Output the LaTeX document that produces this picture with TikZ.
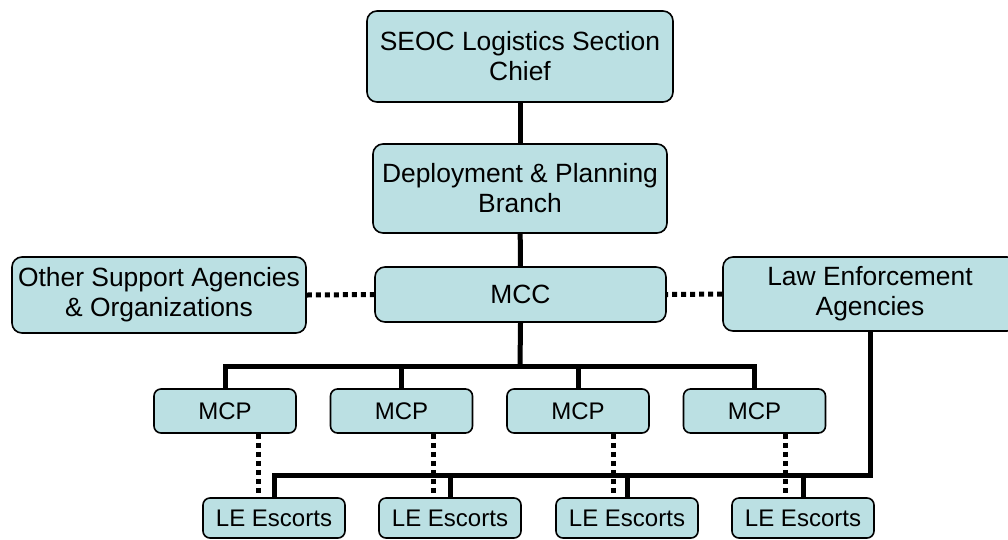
\documentclass[tikz,border=0pt]{standalone}
\usepackage{fontspec}
\setmainfont{Liberation Sans}
\usetikzlibrary{calc}
\definecolor{boxfill}{RGB}{187,224,227}
\tikzset{
  box/.style={draw=black, line width=1.6pt, fill=boxfill, rounded corners=10pt,
    align=center, inner sep=0pt, font=\fontsize{26.4}{30}\selectfont},
  smallbox/.style={box, rounded corners=7pt, minimum width=142pt, font=\fontsize{24}{28}\selectfont},
  solidline/.style={line width=5pt},
  dotline/.style={line width=5pt, dash pattern=on 5pt off 4pt}
}
\begin{document}
\begin{tikzpicture}[x=1pt,y=-1pt]
\clip (0,0) rectangle (1008,539);
\node[box, minimum width=306pt, minimum height=91pt] (seoc) at (520,56.5) {SEOC Logistics Section\\Chief};
\node[box, minimum width=294pt, minimum height=89pt] (dep) at (520,188.5) {Deployment \& Planning\\Branch};
\node[box, minimum width=291pt, minimum height=55pt] (mcc) at (520.5,294.5) {MCC};
\node[box, minimum width=294pt, minimum height=76pt] (other) at (159,295) {Other Support Agencies\\\& Organizations};
\node[box, minimum width=294pt, minimum height=74pt] (law) at (870,294) {Law Enforcement\\Agencies};
\foreach \i/\x in {1/225,2/401.5,3/578,4/754.5}
  \node[smallbox, minimum height=44pt] (mcp\i) at (\x,411) {MCP};
\foreach \i/\x in {1/274,2/450,3/627,4/803}
  \node[smallbox, minimum height=40pt] (le\i) at (\x,518) {LE Escorts};
% solid hierarchy
\draw[solidline] (seoc) -- (dep);
\draw[solidline] (dep) -- (mcc);
\coordinate (bus) at (520,366);
\draw[solidline] (mcc.south) -- (bus);
\draw[solidline] (mcp1.north) -- (mcp1.north |- bus) -- (mcp4.north |- bus) -- (mcp4.north);
\draw[solidline] (mcp2.north) -- (mcp2.north |- bus);
\draw[solidline] (mcp3.north) -- (mcp3.north |- bus);
% LE bus
\coordinate (lebus) at (870,475);
\draw[solidline] (law.south) -- (lebus) -- (le1.north |- lebus) -- (le1.north);
\draw[solidline] (le2.north) -- (le2.north |- lebus);
\draw[solidline] (le3.north) -- (le3.north |- lebus);
\draw[solidline] (le4.north) -- (le4.north |- lebus);
% dotted links
\draw[dotline] (other.east) -- (mcc.west);
\draw[dotline] (law.west) -- (mcc.east);
\foreach \i/\d in {1/-16,2/-17,3/-14,4/-18}{
  \draw[dotline] ($(le\i.north)+(\d,0)$) coordinate (t\i) (mcp\i.south -| t\i) -- (t\i);
}
\end{tikzpicture}
\end{document}
